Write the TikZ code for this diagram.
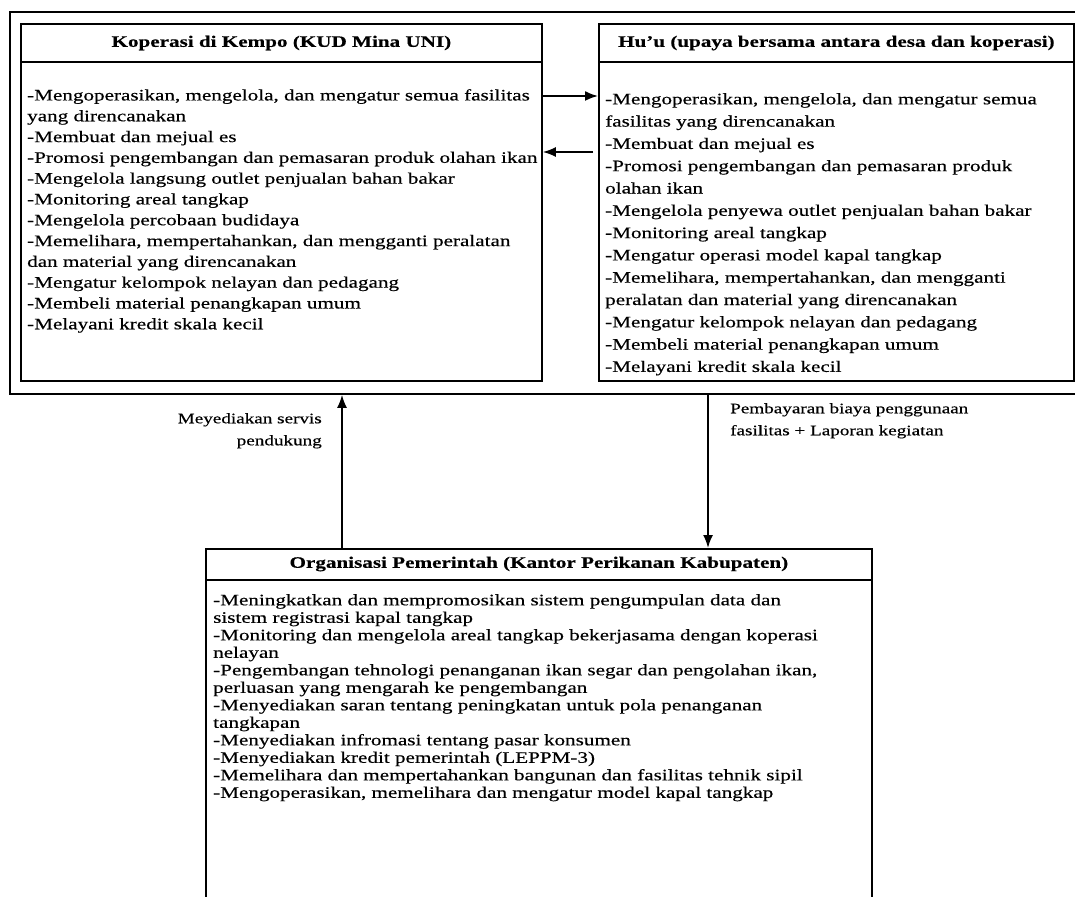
\documentclass[tikz,border=0pt]{standalone}
\usepackage{fontspec}
\setmainfont[FakeStretch=1.32,FakeBold=0.4]{Liberation Serif}
\usetikzlibrary{arrows.meta}
\begin{document}
\begin{tikzpicture}[x=1pt,y=-1pt,
  box/.style={draw, line width=1.8pt, inner sep=0pt, anchor=north west},
  hdr/.style={font=\bfseries\fontsize{16}{20}\selectfont, inner sep=0pt},
  body/.style={align=left, anchor=north west, inner sep=0pt, font=\fontsize{16}{#1}\selectfont},
  lbl/.style={inner sep=0pt, font=\fontsize{14.5}{22}\selectfont},
  arr/.style={-{Latex[length=13pt,width=10pt]}, line width=1.8pt},
  hrule/.style={line width=1.5pt}]
\useasboundingbox (0,0) rectangle (1075,896);
\fill[white] (0,0) rectangle (1075,896);
\clip (0,0) rectangle (1075,896);
% boxes
\node[box, minimum width=1076pt, minimum height=382pt] (frame) at (9,11) {};
\node[box, minimum width=521pt, minimum height=357pt] (kud) at (20,23) {};
\node[box, minimum width=475pt, minimum height=357pt] (huu) at (598,23) {};
\node[box, minimum width=666pt, minimum height=420pt] (gov) at (205,548) {};
% header rules
\draw[hrule] (kud.west |- 0,62) -- (kud.east |- 0,62);
\draw[hrule] (huu.west |- 0,62) -- (huu.east |- 0,62);
\draw[hrule] (gov.west |- 0,580) -- (gov.east |- 0,580);
% headers
\node[hdr] (kudh) at (kud.north |- 0,43) {Koperasi di Kempo (KUD Mina UNI)};
\node[hdr] (huuh) at (huu.north |- 0,43) {Hu’u (upaya bersama antara desa dan koperasi)};
\node[hdr] (govh) at (gov.north |- 0,564) {Organisasi Pemerintah (Kantor Perikanan Kabupaten)};
% bodies
\node[body=20.8] (kudb) at (27,89) {-Mengoperasikan, mengelola, dan mengatur semua fasilitas\\
yang direncanakan\\
-Membuat dan mejual es\\
-Promosi pengembangan dan pemasaran produk olahan ikan\\
-Mengelola langsung outlet penjualan bahan bakar\\
-Monitoring areal tangkap\\
-Mengelola percobaan budidaya\\
-Memelihara, mempertahankan, dan mengganti peralatan\\
dan material yang direncanakan\\
-Mengatur kelompok nelayan dan pedagang\\
-Membeli material penangkapan umum\\
-Melayani kredit skala kecil};
\node[body=22.3] (huub) at (605,93) {-Mengoperasikan, mengelola, dan mengatur semua\\
fasilitas yang direncanakan\\
-Membuat dan mejual es\\
-Promosi pengembangan dan pemasaran produk\\
olahan ikan\\
-Mengelola penyewa outlet penjualan bahan bakar\\
-Monitoring areal tangkap\\
-Mengatur operasi model kapal tangkap\\
-Memelihara, mempertahankan, dan mengganti\\
peralatan dan material yang direncanakan\\
-Mengatur kelompok nelayan dan pedagang\\
-Membeli material penangkapan umum\\
-Melayani kredit skala kecil};
\node[body=17.5] (govb) at (213,594) {-Meningkatkan dan mempromosikan sistem pengumpulan data dan\\
sistem registrasi kapal tangkap\\
-Monitoring dan mengelola areal tangkap bekerjasama dengan koperasi\\
nelayan\\
-Pengembangan tehnologi penanganan ikan segar dan pengolahan ikan,\\
perluasan yang mengarah ke pengembangan\\
-Menyediakan saran tentang peningkatan untuk pola penanganan\\
tangkapan\\
-Menyediakan infromasi tentang pasar konsumen\\
-Menyediakan kredit pemerintah (LEPPM-3)\\
-Memelihara dan mempertahankan bangunan dan fasilitas tehnik sipil\\
-Mengoperasikan, memelihara dan mengatur model kapal tangkap};
% connectors
\coordinate (a1) at (0,96);
\coordinate (a2s) at (593,152);
\coordinate (upx) at (342,0);
\coordinate (dnx) at (708,0);
\draw[arr] (kud.east |- a1) -- (huu.west |- a1);
\draw[arr] (a2s) -- (kud.east |- a2s);
\draw[arr] (gov.north -| upx) -- (frame.south -| upx);
\draw[arr] (frame.south -| dnx) -- (gov.north -| dnx);
% labels
\node[lbl, anchor=north east, align=right] (l1) at (322,413) {Meyediakan servis\\pendukung};
\node[lbl, anchor=north west, align=left] (l2) at (730,403) {Pembayaran biaya penggunaan\\fasilitas + Laporan kegiatan};
\end{tikzpicture}
\end{document}
